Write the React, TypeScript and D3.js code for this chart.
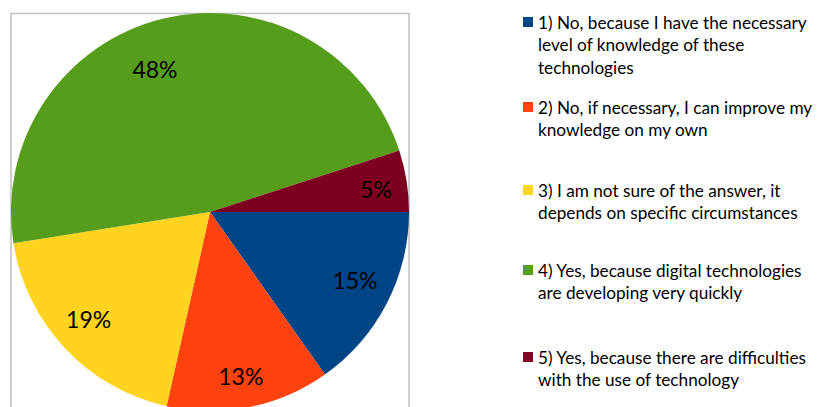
import React from "react";
import * as d3 from "d3";

const categories = [
  "1) No, because I have the necessary level of knowledge of these technologies",
  "2) No, if necessary, I can improve my knowledge on my own",
  "3) I am not sure of the answer, it depends on specific circumstances",
  "4) Yes, because digital technologies are developing very quickly",
  "5) Yes, because there are difficulties with the use of technology",
];
const legendLines = [
  ["1) No, because I have the necessary", "level of knowledge of these", "technologies"],
  ["2) No, if necessary, I can improve my", "knowledge on my own"],
  ["3) I am not sure of the answer, it", "depends on specific circumstances"],
  ["4) Yes, because digital technologies", "are developing very quickly"],
  ["5) Yes, because there are difficulties", "with the use of technology"],
];
const values = [15.2, 13.3, 19.0, 47.5, 5.0];
const colors = ["#004586", "#ff420e", "#ffd320", "#579d1c", "#7e0021"];

// layout only
const legendY = [22, 107, 190, 270, 357];
const labelNudge: [number, number][] = [[-1.6, -7.1], [-1.6, 2.8], [-1.1, -4.9], [-16.5, 17.9], [3, 3.5]];

export default function App() {
  const W = 817, H = 407;
  const cx = 210, cy = 212, R = 199;
  const pie = d3.pie<number>().sort(null).startAngle(Math.PI / 2).endAngle(Math.PI / 2 + 2 * Math.PI);
  const arcs = pie(values);
  const total = d3.sum(values);
  const arc = d3.arc<d3.PieArcDatum<number>>().innerRadius(0).outerRadius(R);
  const labelArc = d3.arc<d3.PieArcDatum<number>>().innerRadius(165).outerRadius(165);
  const font = "Lato, 'Open Sans', sans-serif";
  const lfs = 23;
  return (
    <svg width={W} height={H} style={{ position: "absolute", left: 0, top: 0, background: "#fff" }}>
      <rect x={11} y={13.5} width={398} height={420} fill="none" stroke="#bfbfbf" strokeWidth={1.5} />
      <g transform={`translate(${cx},${cy})`}>
        {arcs.map((a, i) => (
          <path key={i} d={arc(a) || ""} fill={colors[i]} />
        ))}
        {arcs.map((a, i) => {
          const [x, y] = labelArc.centroid(a);
          return (
            <text key={"l" + i} x={x + labelNudge[i][0]} y={y + labelNudge[i][1] + lfs * 0.36} textAnchor="middle"
              fontFamily={font} fontSize={lfs} fill="#000">
              {Math.round((values[i] / total) * 100)}%
            </text>
          );
        })}
      </g>
      {legendLines.map((lines, i) => (
        <g key={"g" + i}>
          <rect x={523} y={legendY[i] - 5} width={10} height={10} fill={colors[i]}>
            <title>{categories[i]}</title>
          </rect>
          {lines.map((t, j) => (
            <text key={j} x={538} y={legendY[i] + j * 22.5} dominantBaseline="central"
              fontFamily={font} fontSize={17.2} fill="#000">{t}</text>
          ))}
        </g>
      ))}
    </svg>
  );
}
